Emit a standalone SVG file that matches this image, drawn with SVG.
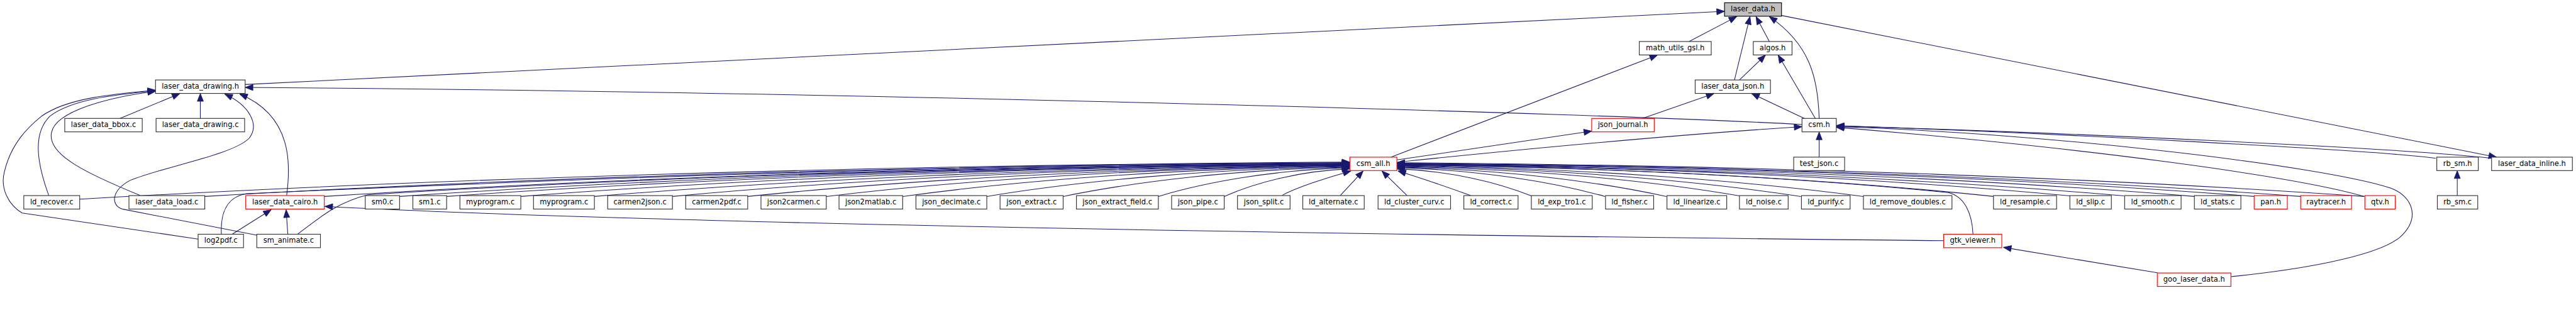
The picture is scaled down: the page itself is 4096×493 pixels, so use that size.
<svg xmlns="http://www.w3.org/2000/svg" width="4096" height="493" viewBox="0 0 4096 493">
<style>
.e{fill:none;stroke:#191970;stroke-width:1.2}
.n rect{fill:#fff;stroke:#333;stroke-width:1.3}
.r rect{fill:#fff;stroke:#ff0000;stroke-width:1.3}
.g rect{fill:#bfbfbf;stroke:#000;stroke-width:1.3}
text{font-family:"DejaVu Sans","Liberation Sans",sans-serif;font-size:13.1px;text-anchor:middle;fill:#000}
</style>
<defs>
<marker id="a" markerUnits="userSpaceOnUse" markerWidth="16" markerHeight="12" refX="14" refY="5.5" orient="auto" overflow="visible"><path d="M0,0 L14,5.5 L0,11 z" fill="#191970" stroke="#191970" stroke-width="1"/></marker>
</defs>
<rect x="0" y="0" width="4096" height="493" fill="#fff"/>
<g transform="scale(0.88)">
<g id="connectors">
<path class="e" marker-end="url(#a)" d="M443,152.7 L3116,20.5"/>
<path class="e" marker-end="url(#a)" d="M3256,225 C2900,205 1500,165 443,158"/>
<path class="e" marker-end="url(#a)" d="M217,214 L325,169"/>
<path class="e" marker-end="url(#a)" d="M362,214 L362,169"/>
<path class="e" marker-end="url(#a)" d="M88,353 C65,290 60,240 90,210 C130,180 200,172 281,164"/>
<path class="e" marker-end="url(#a)" d="M253,353 C160,315 85,280 93,240 C100,200 200,175 281,165"/>
<path class="e" marker-end="url(#a)" d="M358,432 L40,385 C15,370 0,340 8,310 C20,260 50,230 75,210 C120,178 200,170 281,163"/>
<path class="e" marker-end="url(#a)" d="M464,425 L222,378 C200,372 200,345 235,326 C300,300 420,280 450,250 C470,225 450,190 406,170"/>
<path class="e" marker-end="url(#a)" d="M518,353 C525,300 530,210 433,170"/>
<path class="e" marker-end="url(#a)" d="M420,423 L490,379"/>
<path class="e" marker-end="url(#a)" d="M520,423 L517,379"/>
<path class="e" marker-end="url(#a)" d="M3512,435 C2500,425 1200,405 587,373"/>
<path class="e" marker-end="url(#a)" d="M3898,493 L3620,447"/>
<path class="e" marker-end="url(#a)" d="M3052,75 L3138,30"/>
<path class="e" marker-end="url(#a)" d="M3134,144.5 L3162,30"/>
<path class="e" marker-end="url(#a)" d="M3143,144.5 L3190,99.5"/>
<path class="e" marker-end="url(#a)" d="M3197,75 L3173,30"/>
<path class="e" marker-end="url(#a)" d="M3287,214 C3285,140 3270,80 3197,30"/>
<path class="e" marker-end="url(#a)" d="M3280,214 L3213,99.5"/>
<path class="e" marker-end="url(#a)" d="M3260,214 L3165,169"/>
<path class="e" marker-end="url(#a)" d="M2968,214 L3097,169"/>
<path class="e" marker-end="url(#a)" d="M2524,289 L2876,237"/>
<path class="e" marker-end="url(#a)" d="M2525,293 C2700,275 3000,245 3256,229"/>
<path class="e" marker-end="url(#a)" d="M2513,284 L2995,99.5"/>
<path class="e" marker-end="url(#a)" d="M3287,284 L3287,238.5"/>
<path class="e" marker-end="url(#a)" d="M4440,353.5 L4440,308.5"/>
<path class="e" marker-end="url(#a)" d="M3219,28 L4511,284"/>
<path class="e" marker-end="url(#a)" d="M4401,286 C4300,272 3700,240 3318,227"/>
<path class="e" marker-end="url(#a)" d="M4502,286 C4350,268 3700,238 3318,228"/>
<path class="e" marker-end="url(#a)" d="M4031,500 C4150,488 4290,465 4335,430 C4375,395 4360,355 4320,340 C4200,300 3700,240 3318,229"/>
<path class="e" marker-end="url(#a)" d="M4272,355 C4150,320 3800,270 3318,230"/>
<path class="e" marker-end="url(#a)" d="M144,360 C717,326.5 1521,298.4 2439,293"/>
<path class="e" marker-end="url(#a)" d="M370,355 C887,324.5 1611,298.9 2439,294"/>
<path class="e" marker-end="url(#a)" d="M586,355 C1049,325 1698,299.8 2439,295"/>
<path class="e" marker-end="url(#a)" d="M400,423 C398,385 410,356 445,350 C943,327.6 1641,298.5 2439,294"/>
<path class="e" marker-end="url(#a)" d="M538,423 C575,395 610,365 665,352 C1108,324 1729,300.5 2439,296"/>
<path class="e" marker-end="url(#a)" d="M722,355 C1151,325.5 1752,300.7 2439,296"/>
<path class="e" marker-end="url(#a)" d="M807,355 C1215,326 1786,301.6 2439,297"/>
<path class="e" marker-end="url(#a)" d="M941,355 C1315,326 1840,301.6 2439,297"/>
<path class="e" marker-end="url(#a)" d="M1074,355 C1415,326.5 1893,302.6 2439,298"/>
<path class="e" marker-end="url(#a)" d="M1215,355 C1521,326.5 1949,302.6 2439,298"/>
<path class="e" marker-end="url(#a)" d="M1351,355 C1623,327 2004,303.5 2439,299"/>
<path class="e" marker-end="url(#a)" d="M1493,355 C1729,327 2061,303.5 2439,299"/>
<path class="e" marker-end="url(#a)" d="M1631,355 C1833,327.5 2116,304.4 2439,300"/>
<path class="e" marker-end="url(#a)" d="M1783,355 C1947,328 2177,305.3 2439,301"/>
<path class="e" marker-end="url(#a)" d="M1921,355 C2050,328.5 2232,306.2 2439,302"/>
<path class="e" marker-end="url(#a)" d="M2093,355 C2179,329 2301,307.2 2439,303"/>
<path class="e" marker-end="url(#a)" d="M2212,355 C2269,330 2348,309 2439,305"/>
<path class="e" marker-end="url(#a)" d="M2317,353 C2340,340 2400,320 2441,309"/>
<path class="e" marker-end="url(#a)" d="M2422,353 L2463,309"/>
<path class="e" marker-end="url(#a)" d="M2542,353 L2497,309"/>
<path class="e" marker-end="url(#a)" d="M2657,353 C2620,340 2570,322 2526,309"/>
<path class="e" marker-end="url(#a)" d="M2767,354 C2706,329.5 2621,308.9 2524,305"/>
<path class="e" marker-end="url(#a)" d="M2900,355 C2806,329 2674,307.2 2524,303"/>
<path class="e" marker-end="url(#a)" d="M3011,355 C2889,328.5 2719,306.2 2524,302"/>
<path class="e" marker-end="url(#a)" d="M3143,354 C2988,327.5 2772,305.2 2524,301"/>
<path class="e" marker-end="url(#a)" d="M3254,355 C3071,327.5 2816,304.4 2524,300"/>
<path class="e" marker-end="url(#a)" d="M3367,355 C3156,327 2861,303.5 2524,299"/>
<path class="e" marker-end="url(#a)" d="M3565,423 C3563,385 3550,355 3520,348 C3271,323 2922,302 2524,298"/>
<path class="e" marker-end="url(#a)" d="M3602,355 C3332,326.5 2955,302.6 2524,298"/>
<path class="e" marker-end="url(#a)" d="M3740,354 C3436,325.5 3010,301.6 2524,297"/>
<path class="e" marker-end="url(#a)" d="M3838,354 C3509,325.5 3050,301.6 2524,297"/>
<path class="e" marker-end="url(#a)" d="M3965,355 C3605,325.5 3100,300.7 2524,296"/>
<path class="e" marker-end="url(#a)" d="M4073,355 C3686,325 3144,299.8 2524,295"/>
<path class="e" marker-end="url(#a)" d="M4157,355 C3749,325 3177,299.8 2524,295"/>
<path class="e" marker-end="url(#a)" d="M4272,355 C3835,324.5 3223,298.9 2524,294"/>
</g>
<g id="n_laser_data_h" class="g"><rect x="3116" y="5" width="103" height="24.3"/><text x="3167.5" y="20.5">laser_data.h</text></g>
<g id="n_math_utils_gsl_h" class="n"><rect x="2962" y="75" width="130" height="24.3"/><text x="3027" y="90.5">math_utils_gsl.h</text></g>
<g id="n_algos_h" class="n"><rect x="3168" y="75" width="70" height="24.3"/><text x="3203" y="90.5">algos.h</text></g>
<g id="n_laser_data_drawing_h" class="n"><rect x="281" y="144.5" width="162" height="24.3"/><text x="362" y="160">laser_data_drawing.h</text></g>
<g id="n_laser_data_json_h" class="n"><rect x="3063" y="144.5" width="136" height="24.3"/><text x="3131" y="160">laser_data_json.h</text></g>
<g id="n_laser_data_bbox_c" class="n"><rect x="117" y="214" width="140" height="24.3"/><text x="187" y="229.5">laser_data_bbox.c</text></g>
<g id="n_laser_data_drawing_c" class="n"><rect x="282" y="214" width="160" height="24.3"/><text x="362" y="229.5">laser_data_drawing.c</text></g>
<g id="n_json_journal_h" class="r"><rect x="2876" y="214" width="113" height="24.3"/><text x="2932.5" y="229.5">json_journal.h</text></g>
<g id="n_csm_h" class="n"><rect x="3256" y="214" width="62" height="24.3"/><text x="3287" y="229.5">csm.h</text></g>
<g id="n_csm_all_h" class="r"><rect x="2439" y="284" width="85" height="24.3"/><text x="2481.5" y="299.5">csm_all.h</text></g>
<g id="n_test_json_c" class="n"><rect x="3241" y="284" width="92" height="24.3"/><text x="3287" y="299.5">test_json.c</text></g>
<g id="n_rb_sm_h" class="n"><rect x="4403" y="284" width="75" height="24.3"/><text x="4440.5" y="299.5">rb_sm.h</text></g>
<g id="n_laser_data_inline_h" class="n"><rect x="4502" y="284" width="146" height="24.3"/><text x="4575" y="299.5">laser_data_inline.h</text></g>
<g id="n_ld_recover_c" class="n"><rect x="43" y="353.5" width="101" height="24.3"/><text x="93.5" y="369">ld_recover.c</text></g>
<g id="n_laser_data_load_c" class="n"><rect x="233" y="353.5" width="137" height="24.3"/><text x="301.5" y="369">laser_data_load.c</text></g>
<g id="n_laser_data_cairo_h" class="r"><rect x="444" y="353.5" width="142" height="24.3"/><text x="515" y="369">laser_data_cairo.h</text></g>
<g id="n_sm0_c" class="n"><rect x="660" y="353.5" width="62" height="24.3"/><text x="691" y="369">sm0.c</text></g>
<g id="n_sm1_c" class="n"><rect x="746" y="353.5" width="61" height="24.3"/><text x="776.5" y="369">sm1.c</text></g>
<g id="n_myprogram_c_1" class="n"><rect x="831" y="353.5" width="110" height="24.3"/><text x="886" y="369">myprogram.c</text></g>
<g id="n_myprogram_c_2" class="n"><rect x="964" y="353.5" width="110" height="24.3"/><text x="1019" y="369">myprogram.c</text></g>
<g id="n_carmen2json_c" class="n"><rect x="1098" y="353.5" width="117" height="24.3"/><text x="1156.5" y="369">carmen2json.c</text></g>
<g id="n_carmen2pdf_c" class="n"><rect x="1239" y="353.5" width="112" height="24.3"/><text x="1295" y="369">carmen2pdf.c</text></g>
<g id="n_json2carmen_c" class="n"><rect x="1375" y="353.5" width="118" height="24.3"/><text x="1434" y="369">json2carmen.c</text></g>
<g id="n_json2matlab_c" class="n"><rect x="1516" y="353.5" width="115" height="24.3"/><text x="1573.5" y="369">json2matlab.c</text></g>
<g id="n_json_decimate_c" class="n"><rect x="1655" y="353.5" width="128" height="24.3"/><text x="1719" y="369">json_decimate.c</text></g>
<g id="n_json_extract_c" class="n"><rect x="1807" y="353.5" width="114" height="24.3"/><text x="1864" y="369">json_extract.c</text></g>
<g id="n_json_extract_field_c" class="n"><rect x="1945" y="353.5" width="148" height="24.3"/><text x="2019" y="369">json_extract_field.c</text></g>
<g id="n_json_pipe_c" class="n"><rect x="2117" y="353.5" width="95" height="24.3"/><text x="2164.5" y="369">json_pipe.c</text></g>
<g id="n_json_split_c" class="n"><rect x="2236" y="353.5" width="95" height="24.3"/><text x="2283.5" y="369">json_split.c</text></g>
<g id="n_ld_alternate_c" class="n"><rect x="2354" y="353.5" width="111" height="24.3"/><text x="2409.5" y="369">ld_alternate.c</text></g>
<g id="n_ld_cluster_curv_c" class="n"><rect x="2490" y="353.5" width="131" height="24.3"/><text x="2555.5" y="369">ld_cluster_curv.c</text></g>
<g id="n_ld_correct_c" class="n"><rect x="2645" y="353.5" width="98" height="24.3"/><text x="2694" y="369">ld_correct.c</text></g>
<g id="n_ld_exp_tro1_c" class="n"><rect x="2767" y="353.5" width="110" height="24.3"/><text x="2822" y="369">ld_exp_tro1.c</text></g>
<g id="n_ld_fisher_c" class="n"><rect x="2901" y="353.5" width="87" height="24.3"/><text x="2944.5" y="369">ld_fisher.c</text></g>
<g id="n_ld_linearize_c" class="n"><rect x="3012" y="353.5" width="108" height="24.3"/><text x="3066" y="369">ld_linearize.c</text></g>
<g id="n_ld_noise_c" class="n"><rect x="3143" y="353.5" width="88" height="24.3"/><text x="3187" y="369">ld_noise.c</text></g>
<g id="n_ld_purify_c" class="n"><rect x="3255" y="353.5" width="88" height="24.3"/><text x="3299" y="369">ld_purify.c</text></g>
<g id="n_ld_remove_doubles_c" class="n"><rect x="3367" y="353.5" width="160" height="24.3"/><text x="3447" y="369">ld_remove_doubles.c</text></g>
<g id="n_ld_resample_c" class="n"><rect x="3602" y="353.5" width="114" height="24.3"/><text x="3659" y="369">ld_resample.c</text></g>
<g id="n_ld_slip_c" class="n"><rect x="3740" y="353.5" width="75" height="24.3"/><text x="3777.5" y="369">ld_slip.c</text></g>
<g id="n_ld_smooth_c" class="n"><rect x="3839" y="353.5" width="102" height="24.3"/><text x="3890" y="369">ld_smooth.c</text></g>
<g id="n_ld_stats_c" class="n"><rect x="3965" y="353.5" width="84" height="24.3"/><text x="4007" y="369">ld_stats.c</text></g>
<g id="n_pan_h" class="r"><rect x="4073" y="353.5" width="60" height="24.3"/><text x="4103" y="369">pan.h</text></g>
<g id="n_raytracer_h" class="r"><rect x="4157" y="353.5" width="92" height="24.3"/><text x="4203" y="369">raytracer.h</text></g>
<g id="n_qtv_h" class="r"><rect x="4273" y="353.5" width="55" height="24.3"/><text x="4300.5" y="369">qtv.h</text></g>
<g id="n_rb_sm_c" class="n"><rect x="4404" y="353.5" width="73" height="24.3"/><text x="4440.5" y="369">rb_sm.c</text></g>
<g id="n_log2pdf_c" class="n"><rect x="358" y="423.3" width="82" height="24.3"/><text x="399" y="438.8">log2pdf.c</text></g>
<g id="n_sm_animate_c" class="n"><rect x="464" y="423.3" width="115" height="24.3"/><text x="521.5" y="438.8">sm_animate.c</text></g>
<g id="n_gtk_viewer_h" class="r"><rect x="3512" y="423.3" width="105" height="24.3"/><text x="3564.5" y="438.8">gtk_viewer.h</text></g>
<g id="n_goo_laser_data_h" class="r"><rect x="3898" y="493.3" width="133" height="24.3"/><text x="3964.5" y="508.8">goo_laser_data.h</text></g>
</g>
</svg>
